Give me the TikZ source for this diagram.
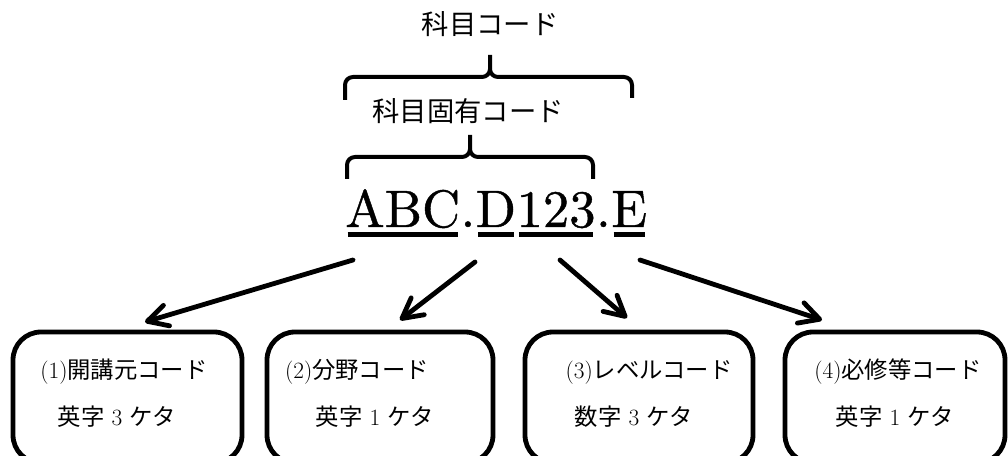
\documentclass[tikz,border=0pt]{standalone}
\usepackage{fontspec}
\newfontfamily\jp{Noto Sans CJK JP}
\newfontfamily\codefont{lmroman10-regular.otf}[FakeBold=0.8]
\usetikzlibrary{arrows.meta}
\begin{document}
\begin{tikzpicture}[x=0.75pt,y=-0.75pt,
  boxst/.style={draw, line width=3.6pt, rounded corners=21pt, inner sep=0pt, minimum height=98.25pt},
  bt/.style={inner sep=0pt, font=\fontsize{17.5}{17.5}\selectfont},
  ttl/.style={inner sep=0pt, font=\fontsize{20.5}{20.5}\selectfont\jp},
  code/.style={inner sep=0pt, anchor=base west, font=\fontsize{39.5}{39.5}\codefont},
  ul/.style={line width=3.6pt, shorten <=2pt, shorten >=2pt},
  br/.style={line width=3pt, line join=round},
  arr/.style={line width=3.6pt, line cap=round, -{Straight Barb[length=15pt,width=16pt,round]}}
]
\useasboundingbox (0,0) rectangle (1008,456);
\clip (0,0) rectangle (1008,456);

% titles
\node[ttl] (t1) at (490,24) {科目コード};
\node[ttl] (t2) at (468,111) {科目固有コード};

% braces
\draw[br] (345,100) -- (345,85) to[out=90,in=180] (353,77) -- (482,77) to[out=0,in=-90] (490,69) -- (490,55);
\draw[br] (490,69) to[out=-90,in=180] (498,77) -- (624,77) to[out=0,in=90] (632,85) -- (632,98);
\draw[br] (347,179) -- (347,165) to[out=90,in=180] (355,157) -- (462,157) to[out=0,in=-90] (470,149) -- (470,135);
\draw[br] (470,149) to[out=-90,in=180] (478,157) -- (585,157) to[out=0,in=90] (593,165) -- (593,179);

% code
\node[code] (cA) at (345,227) {ABC};
\node[code] (d1) at (cA.base east) {.};
\node[code] (cD) at (d1.base east) {D};
\node[code] (cN) at (cD.base east) {123};
\node[code] (d2) at (cN.base east) {.};
\node[code] (cE) at (d2.base east) {E};
\foreach \n in {cA,cD,cN,cE}{
  \draw[ul] ([yshift=-5.6pt]\n.base west) -- ([yshift=-5.6pt]\n.base east);
}

% boxes
\node[boxst, minimum width=171.75pt] (b1) at (127.5,397.5) {};
\node[boxst, minimum width=169.5pt] (b2) at (380,397.5) {};
\node[boxst, minimum width=171pt] (b3) at (639,397.5) {};
\node[boxst, minimum width=165pt] (b4) at (895,397.5) {};

\node[bt] (b1a) at (124,372) {(1){\jp 開講元コード}};
\node[bt] (b1b) at (117,417) {{\jp 英字} 3 {\jp ケタ}};
\node[bt] (b2a) at (357,372) {(2){\jp 分野コード}};
\node[bt] (b2b) at (375,417) {{\jp 英字} 1 {\jp ケタ}};
\node[bt] (b3a) at (649,372) {(3){\jp レベルコード}};
\node[bt] (b3b) at (634,417) {{\jp 数字} 3 {\jp ケタ}};
\node[bt] (b4a) at (898,372) {(4){\jp 必修等コード}};
\node[bt] (b4b) at (895,417) {{\jp 英字} 1 {\jp ケタ}};

% arrows
\coordinate (s1) at (353,260); \coordinate (e1) at (145,322);
\coordinate (s2) at (475,262); \coordinate (e2) at (400,320);
\coordinate (s3) at (560,260); \coordinate (e3) at (627,318);
\coordinate (s4) at (640,260); \coordinate (e4) at (822,320);
\draw[arr] (s1) -- (e1);
\draw[arr] (s2) -- (e2);
\draw[arr] (s3) -- (e3);
\draw[arr] (s4) -- (e4);
\end{tikzpicture}
\end{document}
